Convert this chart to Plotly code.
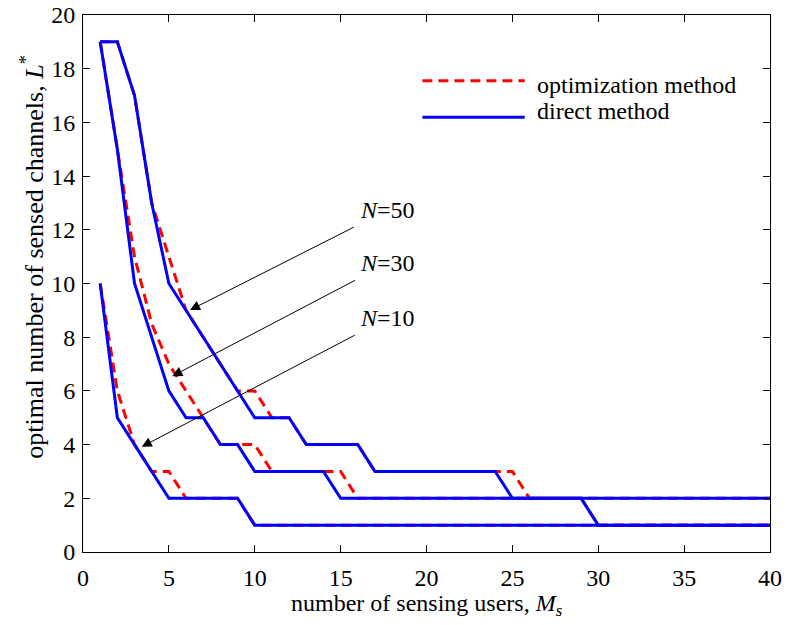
import plotly.graph_objects as go

# ---------------- data ----------------
M = list(range(1, 41))

direct_N10 = [10, 5, 4, 3, 2, 2, 2, 2, 2, 1, 1, 1, 1, 1, 1, 1, 1, 1, 1, 1,
              1, 1, 1, 1, 1, 1, 1, 1, 1, 1, 1, 1, 1, 1, 1, 1, 1, 1, 1, 1]
opt_N10 = [10, 6, 4, 3, 3, 2, 2, 2, 2, 1, 1, 1, 1, 1, 1, 1, 1, 1, 1, 1,
           1, 1, 1, 1, 1, 1, 1, 1, 1, 1, 1, 1, 1, 1, 1, 1, 1, 1, 1, 1]

direct_N30 = [19, 15, 10, 8, 6, 5, 5, 4, 4, 3, 3, 3, 3, 3, 2, 2, 2, 2, 2, 2,
              2, 2, 2, 2, 2, 2, 2, 2, 2, 1, 1, 1, 1, 1, 1, 1, 1, 1, 1, 1]
opt_N30 = [19, 15, 11, 8.5, 7, 6, 5, 4, 4, 4, 3, 3, 3, 3, 3, 2, 2, 2, 2, 2,
           2, 2, 2, 2, 2, 2, 2, 2, 2, 1, 1, 1, 1, 1, 1, 1, 1, 1, 1, 1]

direct_N50 = [19, 19, 17, 13, 10, 9, 8, 7, 6, 5, 5, 5, 4, 4, 4, 4, 3, 3, 3, 3,
              3, 3, 3, 3, 2, 2, 2, 2, 2, 2, 2, 2, 2, 2, 2, 2, 2, 2, 2, 2]
opt_N50 = [19, 19, 17, 13, 11, 9, 8, 7, 6, 6, 5, 5, 4, 4, 4, 4, 3, 3, 3, 3,
           3, 3, 3, 3, 3, 2, 2, 2, 2, 2, 2, 2, 2, 2, 2, 2, 2, 2, 2, 2]

curve_labels = ["N=50", "N=30", "N=10"]
arrow_tips_x = [6.23, 5.2, 3.42]
arrow_tips_y = [9.01, 6.55, 3.92]
label_x = [17.75, 17.75, 17.75]
label_y = [12.74, 10.76, 8.72]

x_ticks = [0, 5, 10, 15, 20, 25, 30, 35, 40]
y_ticks = [0, 2, 4, 6, 8, 10, 12, 14, 16, 18, 20]

legend_names = ["optimization method", "direct method"]
x_title = "number of sensing users, <i>M</i><sub><i>s</i></sub>"
y_title = "optimal number of sensed channels, <i>L</i><sup>*</sup>"

# ---------------- figure ----------------
FONT = "Times New Roman"
RED = "#ff0000"
BLUE = "#0000ff"
FS = 24

fig = go.Figure()

for ys in (opt_N10, opt_N30, opt_N50):
    fig.add_trace(go.Scatter(x=M, y=ys, mode="lines",
                             line=dict(color=RED, width=3, dash="10px,6px"),
                             name=legend_names[0], showlegend=False))
for ys in (direct_N10, direct_N30, direct_N50):
    fig.add_trace(go.Scatter(x=M, y=ys, mode="lines",
                             line=dict(color=BLUE, width=3),
                             name=legend_names[1], showlegend=False))

# labels with arrows pointing at the curves
for lab, tx, ty, lx, ly in zip(curve_labels, arrow_tips_x, arrow_tips_y,
                               label_x, label_y):
    n, val = lab.split("=")
    fig.add_annotation(x=tx, y=ty, ax=lx, ay=ly, xref="x", yref="y",
                       axref="x", ayref="y",
                       text="<i>" + n + "</i>=" + val, showarrow=True,
                       arrowhead=2, arrowsize=2, arrowwidth=1,
                       arrowcolor="black", standoff=0, startstandoff=6,
                       font=dict(family=FONT, size=FS, color="black"))

# manual legend (long line samples like the original)
leg_y_line = [0.8777, 0.8095]
leg_y_text = [0.869, 0.821]
leg_colors = [RED, BLUE]
leg_dash = ["10px,6px", "solid"]
for nm, yl, yt, c, d in zip(legend_names, leg_y_line, leg_y_text, leg_colors, leg_dash):
    fig.add_shape(type="line", xref="paper", yref="paper",
                  x0=0.494, x1=0.643, y0=yl, y1=yl,
                  line=dict(color=c, width=3, dash=d))
    fig.add_annotation(x=0.658, y=yt, xref="paper", yref="paper",
                       text=nm, showarrow=False, xanchor="left",
                       yanchor="middle",
                       font=dict(family=FONT, size=FS, color="black"))

# axis titles
fig.add_annotation(x=0.5, y=-0.067, xref="paper", yref="paper",
                   text=x_title, showarrow=False, xanchor="center",
                   yanchor="top", font=dict(family=FONT, size=24, color="black"))
fig.add_annotation(x=-0.0728, y=0.55, xref="paper", yref="paper",
                   text=y_title, showarrow=False, textangle=-90,
                   xanchor="center", yanchor="middle",
                   font=dict(family=FONT, size=26, color="black"))

axis_common = dict(showline=True, linecolor="black", linewidth=1,
                   mirror="ticks", ticks="inside", ticklen=7,
                   tickcolor="black", tickwidth=1, showgrid=False,
                   zeroline=False, automargin=False,
                   tickfont=dict(family=FONT, size=FS, color="black"))

fig.update_xaxes(range=[0, 40], tickvals=x_ticks,
                 ticktext=[str(v) for v in x_ticks],
                 ticklabelstandoff=4, **axis_common)
fig.update_yaxes(range=[0, 20], tickvals=y_ticks,
                 ticktext=[str(v) for v in y_ticks],
                 ticklabelstandoff=2, **axis_common)

fig.update_layout(width=792, height=625,
                  margin=dict(l=83, r=22, t=15, b=73),
                  paper_bgcolor="white", plot_bgcolor="white",
                  font=dict(family=FONT, size=FS, color="black"),
                  showlegend=False)

fig.write_html("out.html")
